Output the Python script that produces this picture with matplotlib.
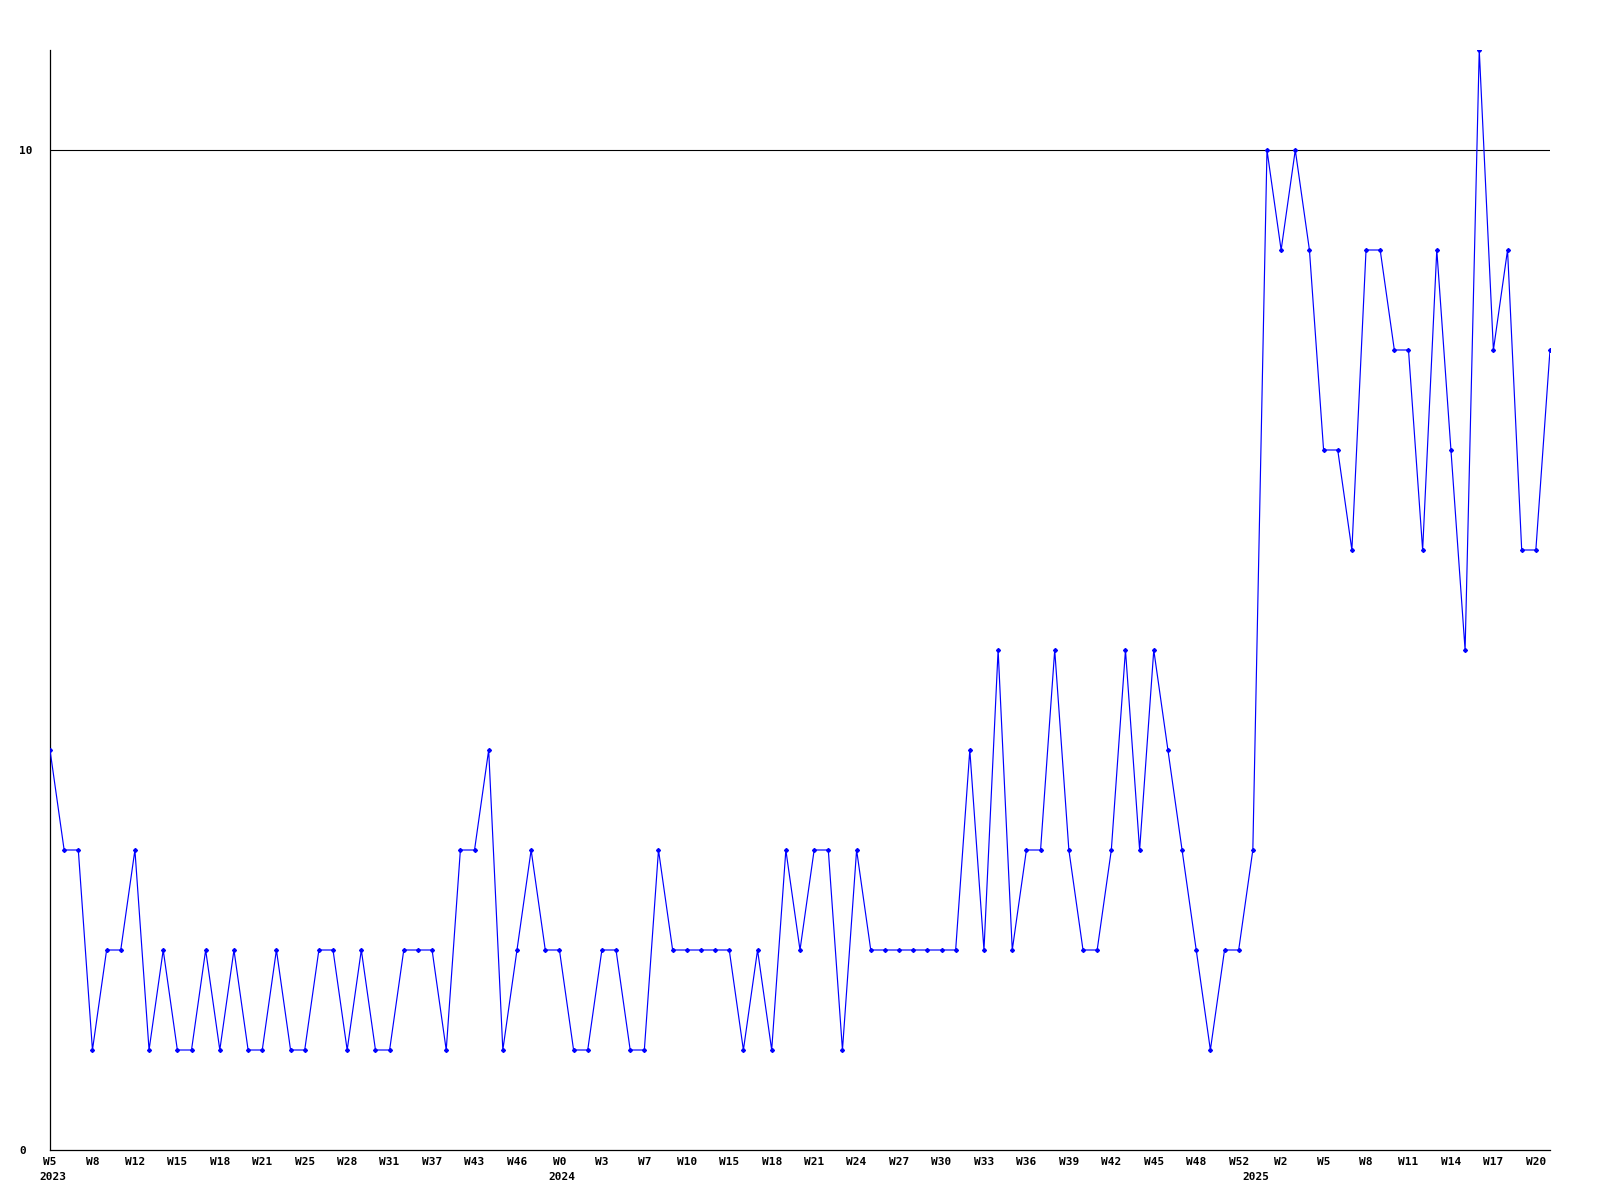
import matplotlib
matplotlib.use('Agg')
import matplotlib.pyplot as plt

# weekly counts, one point per week that has data
counts: list[int] = [
    4, 3, 3, 1, 2, 2, 3, 1, 2, 1, 1, 2, 1, 2, 1, 1, 2, 1, 1, 2,
    2, 1, 2, 1, 1, 2, 2, 2, 1, 3, 3, 4, 1, 2, 3, 2, 2, 1, 1, 2,
    2, 1, 1, 3, 2, 2, 2, 2, 2, 1, 2, 1, 3, 2, 3, 3, 1, 3, 2, 2,
    2, 2, 2, 2, 2, 4, 2, 5, 2, 3, 3, 5, 3, 2, 2, 3, 5, 3, 5, 4,
    3, 2, 1, 2, 2, 3, 10, 9, 10, 9, 7, 7, 6, 9, 9, 8, 8, 6, 9, 7,
    5, 11, 8, 9, 6, 6, 8,
]

# every third point gets a week label
week_labels: list[str] = [
    'W5', 'W8', 'W12', 'W15', 'W18', 'W21', 'W25', 'W28', 'W31', 'W37',
    'W43', 'W46', 'W0', 'W3', 'W7', 'W10', 'W15', 'W18', 'W21', 'W24',
    'W27', 'W30', 'W33', 'W36', 'W39', 'W42', 'W45', 'W48', 'W52', 'W2',
    'W5', 'W8', 'W11', 'W14', 'W17', 'W20',
]
label_step: int = 3

# first point of each year
year_labels: list[str] = ['2023', '2024', '2025']
year_index: list[int] = [0, 36, 85]

y_ticks: list[int] = [0, 10]
y_max: int = 11

FONT = dict(family='DejaVu Sans Mono', weight='bold', size=8)


def plot_counts():
    fig = plt.figure(figsize=(16, 12), dpi=100)
    ax = fig.add_axes([50 / 1600, 50 / 1200, 1500 / 1600, 1100 / 1200])

    xs = list(range(len(counts)))
    ax.plot(xs, counts, color='#0000ff', linewidth=0.85,
            marker='D', markersize=2.0, zorder=3)

    # reference line at 10
    ax.axhline(10, color='black', linewidth=0.8, zorder=2)

    ax.set_xlim(0, len(counts) - 1)
    ax.set_ylim(0, y_max)

    for side in ['top', 'right']:
        ax.spines[side].set_visible(False)
    for side in ['left', 'bottom']:
        ax.spines[side].set_color('black')
        ax.spines[side].set_linewidth(0.9)

    ax.set_xticks(xs[::label_step][:len(week_labels)])
    ax.set_xticklabels(week_labels, **FONT)
    ax.tick_params(axis='x', length=0, pad=5)

    ax.set_yticks(y_ticks)
    ax.set_yticklabels([str(v) for v in y_ticks], **FONT)
    for label in ax.get_yticklabels():
        label.set_horizontalalignment('left')
    ax.tick_params(axis='y', length=0, pad=22)

    # year under the first week of each year
    for idx, year in zip(year_index, year_labels):
        ax.text(idx + 0.2, -27 / 1100, year, transform=ax.get_xaxis_transform(),
                ha='center', va='center', **FONT)

    fig.savefig('out.png', dpi=100, facecolor='white')


if __name__ == '__main__':
    plot_counts()
